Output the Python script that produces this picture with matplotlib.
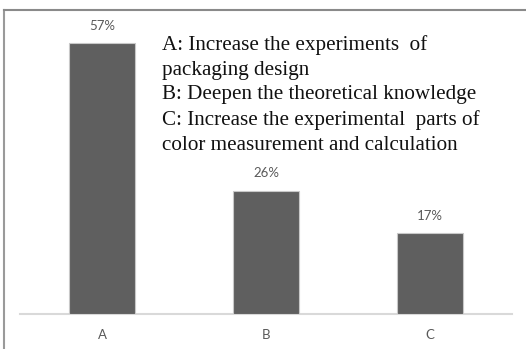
import matplotlib
matplotlib.use("Agg")
import matplotlib.pyplot as plt
from matplotlib.lines import Line2D

categories = ["A", "B", "C"]
shares = [57, 26, 17]
value_labels = ["57%", "26%", "17%"]
legend_lines = [
    "A: Increase the experiments  of",
    "packaging design",
    "B: Deepen the theoretical knowledge",
    "C: Increase the experimental  parts of",
    "color measurement and calculation",
]

W, H = 526, 349
fig = plt.figure(figsize=(W / 100, H / 100), dpi=100)
fig.patch.set_facecolor("white")

ax = fig.add_axes([20 / W, (H - 314) / H, 492 / W, 285 / H])
x = list(range(len(categories)))
ax.bar(x, shares, width=0.40, color="#5f5f5f", edgecolor="#c8c8c8", linewidth=0.8, zorder=3)
ax.set_xlim(-0.5, 2.5)
ax.set_ylim(0, 60)

for xi, v, lab in zip(x, shares, value_labels):
    ax.annotate(lab, (xi, v), xytext=(0, 8), textcoords="offset points",
                ha="center", va="bottom", fontsize=9.5, color="#595959", family="Lato")

for s in ["top", "right", "left"]:
    ax.spines[s].set_visible(False)
ax.spines["bottom"].set_color("#d9d9d9")
ax.spines["bottom"].set_linewidth(1.5)
ax.set_yticks([])
ax.set_xticks(x)
ax.set_xticklabels(categories, fontsize=9.5, color="#595959", family="Lato")
ax.tick_params(axis="x", length=0, pad=11)

# explanatory text block
y0 = 45
for i, line in enumerate(legend_lines):
    fig.text(162 / W, 1 - (y0 + i * 25) / H, line, ha="left", va="center",
             fontsize=15.2, family="Liberation Serif", color="#111111")

# outer frame (left and top edges)
fig.add_artist(Line2D([4 / W, 4 / W], [0, 1 - 10 / H], transform=fig.transFigure,
                      color="#9a9a9a", linewidth=1.5))
fig.add_artist(Line2D([4 / W, 1], [1 - 10 / H, 1 - 10 / H], transform=fig.transFigure,
                      color="#8a8a8a", linewidth=1.5))

fig.savefig("out.png", dpi=100, facecolor="white")
